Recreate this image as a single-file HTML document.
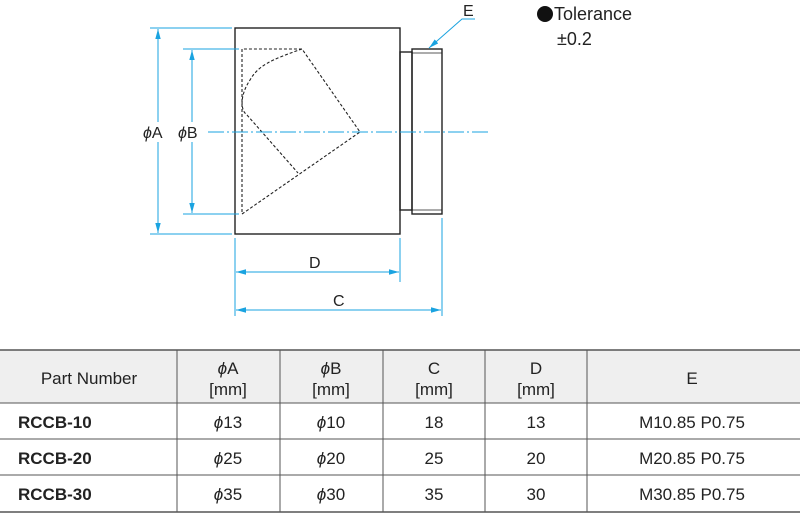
<!DOCTYPE html>
<html><head><meta charset="utf-8"><style>
html,body{margin:0;padding:0;background:#fff;}
svg{display:block;font-family:"Liberation Sans",Arial,sans-serif;}
.p{font-style:italic;}
</style></head><body>
<svg width="800" height="515" viewBox="0 0 800 515" xmlns="http://www.w3.org/2000/svg">
<defs>
<marker id="ar" viewBox="0 0 10 10" refX="10" refY="5" markerWidth="10" markerHeight="10" orient="auto-start-reverse" markerUnits="userSpaceOnUse"><path d="M0,2.3 L10,5 L0,7.7 z" fill="#1aa3e0"/></marker>
</defs>
<g fill="none" stroke="#222" stroke-width="1.4">
<rect x="235" y="28" width="165" height="206"/>
<rect x="400" y="52" width="12" height="158"/>
<rect x="412" y="49" width="30" height="165"/>
<line x1="412" y1="53" x2="442" y2="53" stroke-width="0.8"/>
<line x1="412" y1="210" x2="442" y2="210" stroke-width="0.8"/>
</g>
<g fill="none" stroke="#222" stroke-width="1.1" stroke-dasharray="3,2">
<path d="M242,49 L242,214 L360,132 L302,49 Z"/>
<path d="M302,49 C270,60 258,66 250,80 C240,95 240,110 247,115 L298,173"/>
</g>
<line x1="208" y1="132" x2="488" y2="132" stroke="#1aa3e0" stroke-width="1" stroke-dasharray="16,3,2,3"/>
<g stroke="#1aa3e0" stroke-width="1" fill="none">
<line x1="150" y1="28" x2="232" y2="28"/>
<line x1="150" y1="234" x2="232" y2="234"/>
<line x1="158" y1="29" x2="158" y2="122" marker-start="url(#ar)"/>
<line x1="158" y1="142" x2="158" y2="233" marker-end="url(#ar)"/>
<line x1="183" y1="49" x2="239" y2="49"/>
<line x1="183" y1="214" x2="239" y2="214"/>
<line x1="192" y1="50" x2="192" y2="122" marker-start="url(#ar)"/>
<line x1="192" y1="142" x2="192" y2="213" marker-end="url(#ar)"/>
<line x1="235" y1="238" x2="235" y2="316"/>
<line x1="400" y1="238" x2="400" y2="282"/>
<line x1="442" y1="218" x2="442" y2="316"/>
<line x1="236" y1="272" x2="399" y2="272" marker-start="url(#ar)" marker-end="url(#ar)"/>
<line x1="236" y1="310" x2="441" y2="310" marker-start="url(#ar)" marker-end="url(#ar)"/>
<polyline points="475,19 462,19 429,48" marker-end="url(#ar)"/>
</g>
<g font-size="16" fill="#222">
<text x="143" y="138"><tspan class="p">ϕ</tspan>A</text>
<text x="178" y="138"><tspan class="p">ϕ</tspan>B</text>
<text x="309" y="268">D</text>
<text x="333" y="306">C</text>
<text x="463" y="16">E</text>
</g>
<circle cx="545" cy="14" r="8" fill="#111"/>
<text x="554" y="20" font-size="18" fill="#222">Tolerance</text>
<text x="557" y="45" font-size="18" fill="#222">±0.2</text>
<rect x="0" y="350" width="800" height="53" fill="#efefef"/>
<g stroke="#555" stroke-width="1">
<line x1="0" y1="350" x2="800" y2="350" stroke-width="1.5"/>
<line x1="0" y1="403" x2="800" y2="403"/>
<line x1="0" y1="439" x2="800" y2="439"/>
<line x1="0" y1="475" x2="800" y2="475"/>
<line x1="0" y1="512" x2="800" y2="512" stroke-width="1.5"/>
<line x1="177" y1="350" x2="177" y2="512"/>
<line x1="280" y1="350" x2="280" y2="512"/>
<line x1="383" y1="350" x2="383" y2="512"/>
<line x1="485" y1="350" x2="485" y2="512"/>
<line x1="587" y1="350" x2="587" y2="512"/>
</g>
<g font-size="17" fill="#222" text-anchor="middle">
<text x="89" y="384">Part Number</text>
<text x="228" y="374"><tspan class="p">ϕ</tspan>A</text><text x="228" y="395">[mm]</text>
<text x="331" y="374"><tspan class="p">ϕ</tspan>B</text><text x="331" y="395">[mm]</text>
<text x="434" y="374">C</text><text x="434" y="395">[mm]</text>
<text x="536" y="374">D</text><text x="536" y="395">[mm]</text>
<text x="692" y="384">E</text>
<text x="228" y="428"><tspan class="p">ϕ</tspan>13</text><text x="331" y="428"><tspan class="p">ϕ</tspan>10</text><text x="434" y="428">18</text><text x="536" y="428">13</text><text x="692" y="428">M10.85 P0.75</text>
<text x="228" y="464"><tspan class="p">ϕ</tspan>25</text><text x="331" y="464"><tspan class="p">ϕ</tspan>20</text><text x="434" y="464">25</text><text x="536" y="464">20</text><text x="692" y="464">M20.85 P0.75</text>
<text x="228" y="500"><tspan class="p">ϕ</tspan>35</text><text x="331" y="500"><tspan class="p">ϕ</tspan>30</text><text x="434" y="500">35</text><text x="536" y="500">30</text><text x="692" y="500">M30.85 P0.75</text>
</g>
<g font-size="17" font-weight="bold" fill="#222">
<text x="18" y="428">RCCB-10</text>
<text x="18" y="464">RCCB-20</text>
<text x="18" y="500">RCCB-30</text>
</g>
</svg>
</body></html>
